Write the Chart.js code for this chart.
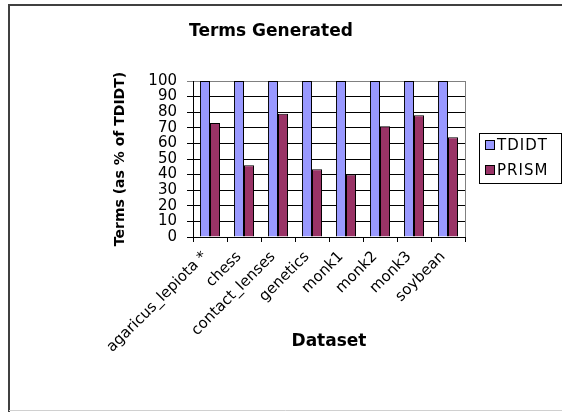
<!DOCTYPE html>
<html>
<head>
<meta charset="utf-8">
<script src="https://cdn.jsdelivr.net/npm/chart.js@4/dist/chart.umd.min.js"></script>
<style>
  html, body { margin: 0; padding: 0; background: #fff; }
  #wrap { width: 562px; height: 412px; }
</style>
</head>
<body>
<div id="wrap"><canvas id="c" width="562" height="412"></canvas></div>
<script>
// Terms generated by PRISM relative to TDIDT, per dataset
const categories = ['agaricus_lepiota *', 'chess', 'contact_lenses', 'genetics', 'monk1', 'monk2', 'monk3', 'soybean'];
const tdidtValues = [100, 100, 100, 100, 100, 100, 100, 100];
const prismValues = [73, 46, 79, 43.5, 40, 71, 78, 64];
const yTicks = [0, 10, 20, 30, 40, 50, 60, 70, 80, 90, 100];

const FONT = "'DejaVu Sans', 'Liberation Sans', Arial, sans-serif";

// Frame, title and boxed legend drawn around the plot
const decorations = {
  id: 'decorations',
  beforeDraw(chart) {
    const ctx = chart.ctx;
    ctx.save();
    ctx.fillStyle = '#fff';
    ctx.fillRect(0, 0, chart.width, chart.height);
    ctx.restore();
  },
  afterDraw(chart) {
    const ctx = chart.ctx;
    const area = chart.chartArea;
    ctx.save();
    // plot area right border
    ctx.strokeStyle = '#808080';
    ctx.lineWidth = 1;
    ctx.beginPath();
    ctx.moveTo(Math.round(area.right) + 0.5, area.top);
    ctx.lineTo(Math.round(area.right) + 0.5, area.bottom);
    ctx.stroke();

    // outer frame
    ctx.strokeStyle = '#404040';
    ctx.lineWidth = 2;
    ctx.beginPath();
    ctx.moveTo(9, 412);
    ctx.lineTo(9, 5);
    ctx.lineTo(562, 5);
    ctx.stroke();
    ctx.strokeStyle = '#d0d0d0';
    ctx.lineWidth = 1;
    ctx.beginPath();
    ctx.moveTo(9, 410.5);
    ctx.lineTo(562, 410.5);
    ctx.stroke();

    // title
    ctx.fillStyle = '#000';
    ctx.font = 'bold 17px ' + FONT;
    ctx.textAlign = 'center';
    ctx.textBaseline = 'middle';
    ctx.fillText('Terms Generated', 271, 32);

    // legend
    ctx.strokeStyle = '#000';
    ctx.lineWidth = 1;
    ctx.strokeRect(479.5, 133.5, 82, 50);
    ctx.font = '15px ' + FONT;
    ctx.letterSpacing = '1px';
    ctx.textAlign = 'left';
    ctx.textBaseline = 'middle';
    chart.data.datasets.forEach((ds, i) => {
      const y = 145 + i * 25;
      ctx.fillStyle = ds.backgroundColor;
      ctx.fillRect(485, y - 5, 9, 9);
      ctx.strokeStyle = '#000';
      ctx.strokeRect(485.5, y - 4.5, 9, 9);
      ctx.fillStyle = '#000';
      ctx.fillText(ds.label, 497, y + 1);
    });
    ctx.restore();
  }
};

new Chart(document.getElementById('c'), {
  type: 'bar',
  data: {
    labels: categories,
    datasets: [
      { label: 'TDIDT', data: tdidtValues, backgroundColor: '#9999FF', borderColor: '#000', borderWidth: 1 },
      { label: 'PRISM', data: prismValues, backgroundColor: '#993366', borderColor: '#000', borderWidth: 1 }
    ]
  },
  options: {
    responsive: false,
    animation: false,
    devicePixelRatio: 1,
    layout: { padding: { top: 81, left: 0, right: 97, bottom: 0 } },
    datasets: { bar: { categoryPercentage: 0.59, barPercentage: 1 } },
    plugins: {
      legend: { display: false },
      title: { display: false },
      tooltip: { enabled: false }
    },
    scales: {
      x: {
        grid: { offset: true, drawOnChartArea: false, drawTicks: true, tickLength: 5, color: '#000' },
        border: { color: '#000', width: 1 },
        ticks: {
          color: '#000',
          font: { family: FONT, size: 15 },
          minRotation: 45, maxRotation: 45,
          padding: 6,
          labelOffset: -5,
          autoSkip: false
        },
        title: {
          display: true, text: 'Dataset', color: '#000',
          font: { family: FONT, size: 17, weight: 'bold' },
          padding: { top: 0, bottom: 60 }
        },
        afterFit(scale) { scale.height = 175; scale.paddingLeft = 0; scale.paddingRight = 0; }
      },
      y: {
        min: 0, max: 100,
        afterBuildTicks(scale) { scale.ticks = yTicks.map(v => ({ value: v })); },
        grid: {
          color: ctx => (ctx.tick && ctx.tick.value === 100 ? '#808080' : '#000'),
          tickLength: 6,
          drawTicks: true
        },
        border: { color: '#000', width: 1 },
        ticks: {
          color: '#000',
          font: { family: FONT, size: 15 },
          padding: 10,
          autoSkip: false
        },
        title: {
          display: true, text: 'Terms (as % of TDIDT)', color: '#000',
          font: { family: FONT, size: 14, weight: 'bold' },
          padding: { top: 112, bottom: 0 }
        },
        afterFit(scale) { scale.width = 193; scale.paddingTop = 0; scale.paddingBottom = 0; }
      }
    }
  },
  plugins: [decorations]
});
</script>
</body>
</html>
